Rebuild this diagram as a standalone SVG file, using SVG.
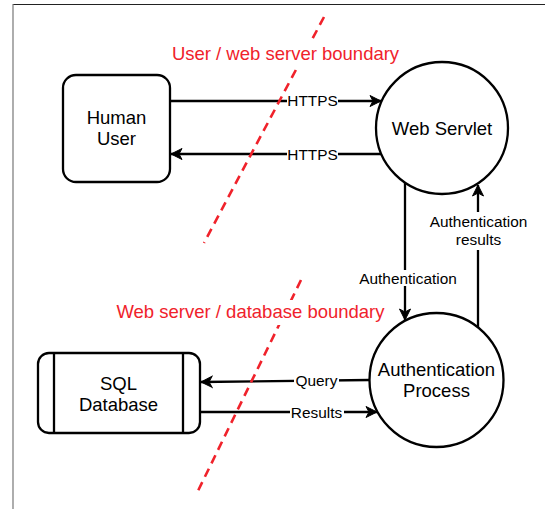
<svg xmlns="http://www.w3.org/2000/svg" width="545" height="509" viewBox="0 0 545 509">
<style>
.node{fill:#fff;stroke:#000;stroke-width:2.3}
.nt{font-family:"Liberation Sans",Arial,sans-serif;font-size:18.5px;fill:#000;text-anchor:middle}
.lt{font-family:"Liberation Sans",Arial,sans-serif;font-size:15.4px;fill:#000;text-anchor:middle}
.rt{font-family:"Liberation Sans",Arial,sans-serif;font-size:18.5px;fill:#f0222b;text-anchor:middle}
.edge{fill:none;stroke:#000;stroke-width:2.3}
.bd{fill:none;stroke:#f0222b;stroke-width:2.6;stroke-dasharray:9 6}
.lbg{fill:#fff}
</style>
<defs>
<marker id="arr" markerUnits="userSpaceOnUse" markerWidth="14" markerHeight="14" refX="12" refY="7" orient="auto" viewBox="0 0 14 14">
<path d="M1,1.5 L12,7 L1,12.5 L4,7 Z" fill="#000" stroke="#000" stroke-width="1"/>
</marker>
</defs>
<rect width="545" height="509" fill="#fff"/>
<line x1="13" y1="4.5" x2="545" y2="4.5" stroke="#222" stroke-width="1.2"/>
<line x1="13" y1="4" x2="13" y2="509" stroke="#777" stroke-width="1.2"/>

<g id="human-user">
<rect class="node" x="63" y="75" width="107" height="107" rx="13"/>
<text class="nt" x="116.5" y="124">Human</text>
<text class="nt" x="116.5" y="145">User</text>
</g>

<g id="web-servlet">
<circle class="node" cx="442" cy="128" r="66"/>
<text class="nt" x="442" y="134.5">Web Servlet</text>
</g>

<g id="auth-process">
<circle class="node" cx="436.5" cy="380" r="67"/>
<text class="nt" x="436.5" y="376">Authentication</text>
<text class="nt" x="436.5" y="397">Process</text>
</g>

<g id="sql-database">
<rect class="node" x="38" y="353" width="162" height="80" rx="11"/>
<line class="edge" x1="54" y1="353" x2="54" y2="433"/>
<line class="edge" x1="183" y1="353" x2="183" y2="433"/>
<text class="nt" x="118.5" y="389.5">SQL</text>
<text class="nt" x="118.5" y="411">Database</text>
</g>

<g id="connectors">
<path class="edge" d="M170,101 L381,101" marker-end="url(#arr)"/>
<rect class="lbg" x="287" y="93" width="51" height="15"/>
<text class="lt" x="312.5" y="106">HTTPS</text>

<path class="edge" d="M381,154 L171,154" marker-end="url(#arr)"/>
<rect class="lbg" x="287" y="146" width="51" height="15"/>
<text class="lt" x="312.5" y="159.5">HTTPS</text>

<path class="edge" d="M405,183 L405,320" marker-end="url(#arr)"/>
<rect class="lbg" x="357" y="270" width="102" height="16"/>
<text class="lt" x="408" y="284">Authentication</text>

<path class="edge" d="M478,327 L478,185" marker-end="url(#arr)"/>
<rect class="lbg" x="427" y="212" width="102" height="38"/>
<text class="lt" x="478.5" y="227">Authentication</text>
<text class="lt" x="478.5" y="245">results</text>

<path class="edge" d="M369.5,380 L201,382" marker-end="url(#arr)"/>
<rect class="lbg" x="294" y="373" width="45" height="16"/>
<text class="lt" x="316.5" y="386">Query</text>

<path class="edge" d="M200,412 L377,412" marker-end="url(#arr)"/>
<rect class="lbg" x="290" y="404" width="54" height="16"/>
<text class="lt" x="316.5" y="417.5">Results</text>
</g>

<g id="boundaries">
<line class="bd" x1="324" y1="17" x2="204" y2="243"/>
<line class="bd" x1="301" y1="280" x2="196" y2="495"/>
<rect class="lbg" x="170" y="42" width="231" height="25"/>
<text class="rt" x="285.5" y="60">User / web server boundary</text>
<rect class="lbg" x="114" y="300" width="273" height="25"/>
<text class="rt" x="250.5" y="318">Web server / database boundary</text>
</g>
</svg>
